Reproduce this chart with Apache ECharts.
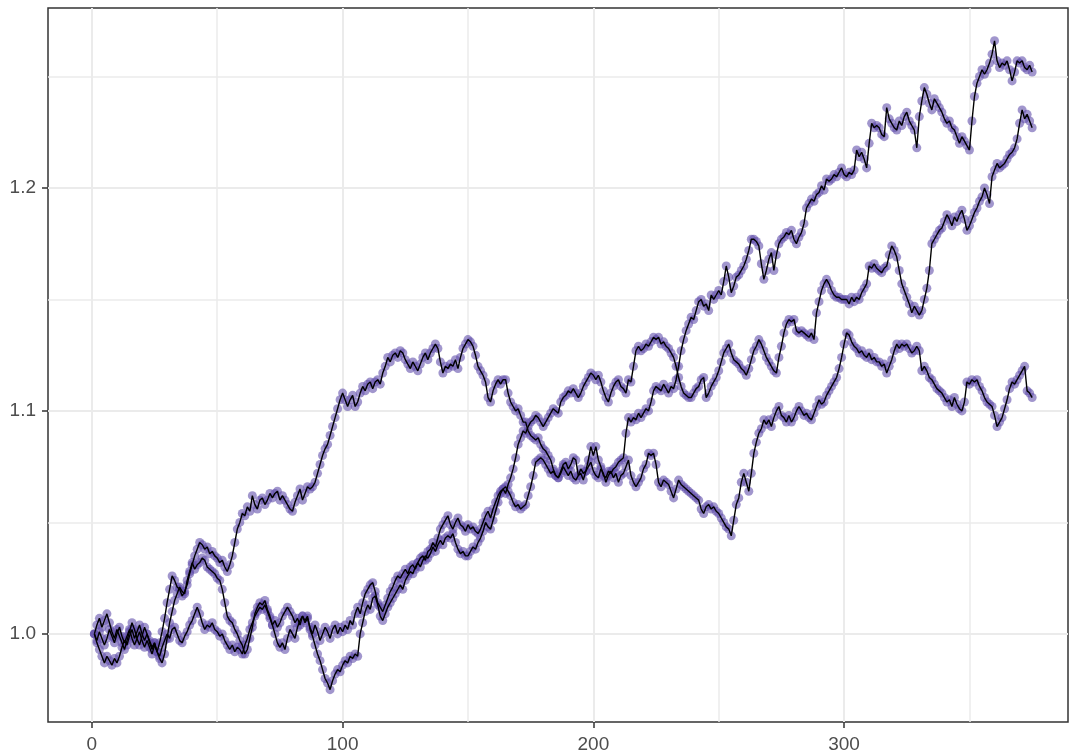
<!DOCTYPE html>
<html>
<head>
<meta charset="utf-8">
<script src="https://cdn.jsdelivr.net/npm/echarts@6/dist/echarts.min.js"></script>
<style>
  html, body { margin: 0; padding: 0; background: #ffffff; }
  #chart { width: 1070px; height: 756px; }
</style>
</head>
<body>
<div id="chart"></div>
<script>
// Three cumulative random walks, one value per step (steps 1..375)
const walkA = [
  1.000, 0.997, 1.001, 0.998, 0.995, 0.998, 1.002, 0.999, 0.996, 1.000, 1.003, 0.999, 0.996, 0.999, 1.002, 0.998, 0.995, 0.998, 1.001, 0.997, 0.994, 0.997, 0.994, 0.991, 0.995,
  0.992, 0.996, 1.001, 1.007, 1.014, 1.020, 1.026, 1.024, 1.021, 1.020, 1.017, 1.019, 1.022, 1.027, 1.031, 1.035, 1.038, 1.041, 1.040, 1.038, 1.039, 1.036, 1.037, 1.035, 1.034,
  1.032, 1.033, 1.030, 1.028, 1.031, 1.035, 1.041, 1.047, 1.050, 1.054, 1.053, 1.057, 1.055, 1.062, 1.058, 1.056, 1.060, 1.061, 1.058, 1.060, 1.063, 1.061, 1.063, 1.064, 1.060,
  1.062, 1.060, 1.058, 1.056, 1.055, 1.059, 1.062, 1.065, 1.060, 1.063, 1.066, 1.065, 1.066, 1.068, 1.072, 1.076, 1.080, 1.083, 1.085, 1.089, 1.093, 1.097, 1.101, 1.105, 1.108,
  1.105, 1.102, 1.105, 1.107, 1.102, 1.104, 1.108, 1.111, 1.109, 1.112, 1.113, 1.110, 1.113, 1.114, 1.112, 1.117, 1.120, 1.124, 1.122, 1.125, 1.126, 1.124, 1.127, 1.126, 1.123,
  1.121, 1.119, 1.122, 1.120, 1.118, 1.121, 1.124, 1.126, 1.123, 1.126, 1.128, 1.130, 1.128, 1.122, 1.117, 1.120, 1.119, 1.121, 1.120, 1.123, 1.119, 1.124, 1.128, 1.130, 1.132,
  1.131, 1.129, 1.125, 1.120, 1.118, 1.116, 1.113, 1.106, 1.104, 1.109, 1.112, 1.114, 1.112, 1.114, 1.114, 1.108, 1.104, 1.102, 1.100, 1.101, 1.098, 1.095, 1.095, 1.091, 1.089,
  1.088, 1.087, 1.088, 1.085, 1.083, 1.082, 1.080, 1.078, 1.074, 1.071, 1.070, 1.073, 1.076, 1.077, 1.074, 1.076, 1.079, 1.078, 1.071, 1.072, 1.069, 1.073, 1.075, 1.077, 1.073,
  1.071, 1.070, 1.074, 1.072, 1.068, 1.071, 1.073, 1.070, 1.072, 1.068, 1.071, 1.072, 1.075, 1.078, 1.071, 1.068, 1.066, 1.068, 1.070, 1.074, 1.076, 1.081, 1.080, 1.081, 1.076,
  1.068, 1.066, 1.069, 1.068, 1.067, 1.064, 1.061, 1.065, 1.069, 1.067, 1.066, 1.065, 1.064, 1.063, 1.062, 1.061, 1.060, 1.056, 1.054, 1.057, 1.058, 1.056, 1.057, 1.055, 1.054,
  1.052, 1.050, 1.048, 1.047, 1.044, 1.051, 1.058, 1.061, 1.068, 1.072, 1.068, 1.064, 1.072, 1.081, 1.086, 1.090, 1.092, 1.096, 1.094, 1.096, 1.093, 1.097, 1.100, 1.102, 1.098,
  1.097, 1.095, 1.098, 1.095, 1.097, 1.100, 1.102, 1.100, 1.098, 1.099, 1.097, 1.096, 1.099, 1.102, 1.105, 1.103, 1.104, 1.107, 1.109, 1.111, 1.113, 1.115, 1.119, 1.124, 1.130,
  1.135, 1.134, 1.131, 1.129, 1.128, 1.126, 1.127, 1.125, 1.124, 1.126, 1.123, 1.124, 1.122, 1.122, 1.120, 1.121, 1.117, 1.120, 1.123, 1.127, 1.130, 1.128, 1.130, 1.129, 1.130,
  1.128, 1.126, 1.127, 1.129, 1.127, 1.118, 1.120, 1.118, 1.115, 1.114, 1.112, 1.110, 1.109, 1.108, 1.106, 1.104, 1.105, 1.102, 1.106, 1.103, 1.101, 1.100, 1.104, 1.113, 1.112,
  1.114, 1.113, 1.114, 1.111, 1.109, 1.106, 1.104, 1.103, 1.102, 1.098, 1.093, 1.095, 1.097, 1.101, 1.105, 1.110, 1.113, 1.112, 1.114, 1.116, 1.118, 1.120, 1.109, 1.108, 1.106
];

const walkB = [
  1.000, 0.996, 0.993, 0.990, 0.987, 0.990, 0.988, 0.986, 0.989, 0.987, 0.990, 0.994, 0.997, 0.995, 0.999, 1.002, 0.998, 1.001, 1.004, 1.000, 0.997, 1.000, 0.996, 0.993, 0.996,
  0.992, 0.990, 0.994, 0.997, 1.000, 0.998, 1.002, 1.003, 1.000, 0.997, 0.996, 0.999, 1.001, 1.004, 1.006, 1.009, 1.012, 1.009, 1.005, 1.002, 1.004, 1.003, 1.005, 1.002, 1.001,
  0.999, 1.000, 0.997, 0.995, 0.993, 0.995, 0.992, 0.994, 0.993, 0.991, 0.995, 0.998, 1.002, 1.005, 1.008, 1.010, 1.012, 1.011, 1.013, 1.010, 1.007, 1.004, 1.006, 1.003, 1.005,
  1.008, 1.010, 1.012, 1.010, 1.008, 1.005, 1.007, 1.004, 1.008, 1.006, 1.008, 1.002, 0.999, 0.995, 0.991, 0.988, 0.984, 0.980, 0.978, 0.975, 0.979, 0.982, 0.984, 0.983, 0.986,
  0.988, 0.987, 0.990, 0.989, 0.991, 0.990, 1.000, 1.005, 1.010, 1.013, 1.011, 1.016, 1.017, 1.013, 1.008, 1.006, 1.009, 1.012, 1.014, 1.016, 1.018, 1.020, 1.022, 1.020, 1.024,
  1.026, 1.028, 1.027, 1.030, 1.032, 1.030, 1.033, 1.035, 1.034, 1.036, 1.039, 1.037, 1.040, 1.042, 1.040, 1.043, 1.044, 1.043, 1.045, 1.041, 1.038, 1.036, 1.037, 1.035, 1.035,
  1.037, 1.039, 1.038, 1.041, 1.043, 1.046, 1.050, 1.048, 1.047, 1.051, 1.055, 1.059, 1.063, 1.065, 1.066, 1.064, 1.062, 1.059, 1.057, 1.058, 1.056, 1.057, 1.058, 1.062, 1.066,
  1.071, 1.077, 1.078, 1.079, 1.078, 1.076, 1.074, 1.072, 1.073, 1.071, 1.070, 1.072, 1.075, 1.073, 1.071, 1.073, 1.070, 1.069, 1.071, 1.074, 1.072, 1.073, 1.078, 1.084, 1.080,
  1.084, 1.078, 1.075, 1.071, 1.070, 1.073, 1.072, 1.074, 1.075, 1.077, 1.078, 1.079, 1.090, 1.097, 1.095, 1.097, 1.096, 1.099, 1.097, 1.099, 1.101, 1.100, 1.104, 1.109, 1.111,
  1.110, 1.109, 1.112, 1.110, 1.108, 1.111, 1.110, 1.114, 1.120, 1.127, 1.132, 1.136, 1.139, 1.142, 1.141, 1.145, 1.149, 1.150, 1.147, 1.148, 1.145, 1.152, 1.150, 1.152, 1.154,
  1.152, 1.158, 1.165, 1.160, 1.153, 1.156, 1.160, 1.161, 1.163, 1.165, 1.168, 1.172, 1.177, 1.177, 1.176, 1.174, 1.166, 1.159, 1.163, 1.168, 1.171, 1.163, 1.170, 1.175, 1.177,
  1.178, 1.180, 1.179, 1.181, 1.177, 1.175, 1.178, 1.180, 1.184, 1.191, 1.193, 1.195, 1.194, 1.197, 1.198, 1.201, 1.199, 1.204, 1.203, 1.204, 1.206, 1.205, 1.207, 1.209, 1.206,
  1.205, 1.207, 1.206, 1.208, 1.217, 1.214, 1.216, 1.213, 1.209, 1.220, 1.229, 1.227, 1.228, 1.227, 1.224, 1.223, 1.236, 1.231, 1.229, 1.227, 1.226, 1.230, 1.228, 1.232, 1.234,
  1.230, 1.228, 1.226, 1.218, 1.232, 1.239, 1.245, 1.242, 1.238, 1.235, 1.240, 1.238, 1.236, 1.234, 1.231, 1.229, 1.230, 1.227, 1.226, 1.223, 1.220, 1.223, 1.221, 1.219, 1.217,
  1.230, 1.241, 1.247, 1.250, 1.253, 1.251, 1.253, 1.256, 1.260, 1.266, 1.257, 1.254, 1.256, 1.255, 1.257, 1.253, 1.248, 1.252, 1.257, 1.256, 1.257, 1.254, 1.253, 1.255, 1.252
];

const walkC = [
  1.000, 1.004, 1.007, 1.003, 1.006, 1.009, 1.005, 1.001, 0.998, 1.002, 0.999, 0.996, 0.993, 0.997, 1.001, 1.005, 1.002, 0.998, 0.995, 0.999, 1.003, 1.000, 0.997, 0.994, 0.996,
  0.992, 0.989, 0.987, 0.991, 0.998, 1.005, 1.010, 1.015, 1.018, 1.021, 1.019, 1.018, 1.024, 1.028, 1.032, 1.029, 1.031, 1.032, 1.034, 1.033, 1.030, 1.029, 1.028, 1.027, 1.025,
  1.024, 1.020, 1.014, 1.008, 1.006, 1.005, 1.002, 1.000, 0.997, 0.995, 0.991, 0.993, 0.998, 1.003, 1.009, 1.012, 1.014, 1.013, 1.015, 1.011, 1.008, 1.004, 1.000, 0.996, 0.994,
  0.996, 0.993, 0.998, 1.002, 1.000, 0.998, 1.003, 1.006, 1.008, 1.005, 1.007, 1.003, 1.000, 1.004, 1.001, 0.997, 1.000, 1.003, 1.001, 0.998, 1.002, 1.004, 1.000, 1.003, 1.001,
  1.004, 1.002, 1.006, 1.004, 1.009, 1.012, 1.009, 1.014, 1.018, 1.020, 1.022, 1.023, 1.019, 1.014, 1.012, 1.010, 1.013, 1.016, 1.019, 1.021, 1.024, 1.026, 1.025, 1.027, 1.029,
  1.027, 1.030, 1.031, 1.029, 1.032, 1.034, 1.035, 1.033, 1.037, 1.038, 1.041, 1.039, 1.043, 1.047, 1.049, 1.051, 1.053, 1.049, 1.047, 1.050, 1.052, 1.049, 1.048, 1.046, 1.049,
  1.047, 1.048, 1.046, 1.045, 1.047, 1.050, 1.053, 1.055, 1.052, 1.056, 1.059, 1.062, 1.064, 1.065, 1.063, 1.067, 1.070, 1.074, 1.079, 1.085, 1.088, 1.091, 1.090, 1.093, 1.095,
  1.096, 1.098, 1.097, 1.095, 1.093, 1.095, 1.097, 1.099, 1.101, 1.100, 1.099, 1.104, 1.106, 1.107, 1.109, 1.108, 1.110, 1.108, 1.106, 1.108, 1.111, 1.113, 1.115, 1.117, 1.116,
  1.114, 1.116, 1.113, 1.109, 1.106, 1.104, 1.108, 1.111, 1.113, 1.114, 1.111, 1.110, 1.108, 1.114, 1.113, 1.120, 1.127, 1.129, 1.127, 1.128, 1.130, 1.129, 1.131, 1.133, 1.132,
  1.133, 1.130, 1.131, 1.129, 1.128, 1.126, 1.124, 1.120, 1.115, 1.111, 1.108, 1.107, 1.106, 1.106, 1.108, 1.110, 1.111, 1.114, 1.115, 1.106, 1.108, 1.111, 1.113, 1.115, 1.118,
  1.122, 1.126, 1.128, 1.130, 1.126, 1.123, 1.122, 1.121, 1.119, 1.118, 1.116, 1.119, 1.123, 1.127, 1.129, 1.132, 1.130, 1.127, 1.124, 1.122, 1.120, 1.118, 1.117, 1.124, 1.129,
  1.135, 1.139, 1.141, 1.140, 1.141, 1.136, 1.135, 1.136, 1.135, 1.134, 1.133, 1.135, 1.132, 1.144, 1.149, 1.154, 1.157, 1.159, 1.157, 1.154, 1.152, 1.151, 1.151, 1.150, 1.150,
  1.150, 1.148, 1.151, 1.149, 1.151, 1.150, 1.153, 1.155, 1.157, 1.165, 1.164, 1.166, 1.164, 1.163, 1.162, 1.164, 1.165, 1.170, 1.174, 1.172, 1.169, 1.163, 1.157, 1.154, 1.151,
  1.148, 1.144, 1.147, 1.145, 1.143, 1.145, 1.150, 1.155, 1.163, 1.175, 1.177, 1.179, 1.181, 1.182, 1.185, 1.188, 1.186, 1.183, 1.187, 1.185, 1.188, 1.190, 1.186, 1.181, 1.183,
  1.186, 1.189, 1.191, 1.194, 1.196, 1.200, 1.197, 1.193, 1.205, 1.208, 1.211, 1.209, 1.210, 1.211, 1.213, 1.215, 1.216, 1.218, 1.222, 1.229, 1.235, 1.231, 1.233, 1.230, 1.227
];

const walks = [walkA, walkB, walkC];

// Axis ticks
const xMajorTicks = [0, 100, 200, 300];
const xMinorTicks = [50, 150, 250, 350];
const yMajorTicks = [1.0, 1.1, 1.2];
const yMinorTicks = [1.05, 1.15, 1.25];

const xLimits = [-17.5, 389.3];
const yLimits = [0.9605, 1.2807];

const POINT_COLOR = 'rgba(96, 78, 170, 0.74)';
const LINE_COLOR = '#000000';
const GRID_COLOR = '#ebebeb';
const BORDER_COLOR = '#333333';
const TEXT_COLOR = '#4d4d4d';
const FONT = '"Liberation Sans", Arial, sans-serif';
const TICK_LEN = 6;

const chart = echarts.init(document.getElementById('chart'), null, { renderer: 'canvas' });

function toPairs(values) {
  return values.map((v, i) => [i + 1, v]);
}

// Minor grid lines, placed through the axis scales
const minorGrid = {
  silent: true,
  symbol: ['none', 'none'],
  label: { show: false },
  lineStyle: { color: GRID_COLOR, width: 1.5, type: 'solid' },
  data: xMinorTicks.map(v => ({ xAxis: v })).concat(yMinorTicks.map(v => ({ yAxis: v })))
};

const series = [];
walks.forEach((w, k) => {
  series.push({
    type: 'scatter',
    name: 'points' + k,
    data: toPairs(w),
    xAxisIndex: 0, yAxisIndex: 0,
    symbol: 'circle',
    symbolSize: 9,
    itemStyle: { color: POINT_COLOR },
    z: 2,
    silent: true,
    markLine: k === 0 ? Object.assign({ z: 1 }, minorGrid) : undefined
  });
});
walks.forEach((w, k) => {
  series.push({
    type: 'line',
    name: 'path' + k,
    data: toPairs(w),
    xAxisIndex: 0, yAxisIndex: 0,
    showSymbol: false,
    lineStyle: { color: LINE_COLOR, width: 1.4 },
    z: 3,
    silent: true
  });
});

// Edge-anchored helper axes: their zero sits on the panel's left / bottom edge,
// so the main axes (set "on zero" of them) draw their ticks along the panel border.
const hiddenAxis = {
  type: 'value', show: true,
  axisLine: { show: false, onZero: false },
  axisTick: { show: false },
  axisLabel: { show: false },
  splitLine: { show: false }
};

const option = {
  animation: false,
  backgroundColor: '#ffffff',
  grid: {
    left: 48, right: 2, top: 8, bottom: 34,
    show: true, borderColor: BORDER_COLOR, borderWidth: 1.5, backgroundColor: 'transparent'
  },
  xAxis: [
    {
      type: 'value', min: xLimits[0], max: xLimits[1], position: 'bottom',
      axisLine: { show: false, onZero: true, onZeroAxisIndex: 1, lineStyle: { color: BORDER_COLOR, width: 1.5 } },
      axisTick: { show: true, customValues: xMajorTicks, length: TICK_LEN, lineStyle: { color: BORDER_COLOR, width: 1.5 } },
      axisLabel: { customValues: xMajorTicks, color: TEXT_COLOR, fontFamily: FONT, fontSize: 19, margin: 13 },
      splitLine: { show: true, lineStyle: { color: GRID_COLOR, width: 2 } }
    },
    Object.assign({}, hiddenAxis, { min: 0, max: xLimits[1] - xLimits[0], position: 'top' })
  ],
  yAxis: [
    {
      type: 'value', min: yLimits[0], max: yLimits[1], position: 'left',
      axisLine: { show: false, onZero: true, onZeroAxisIndex: 1, lineStyle: { color: BORDER_COLOR, width: 1.5 } },
      axisTick: { show: true, customValues: yMajorTicks, length: TICK_LEN, lineStyle: { color: BORDER_COLOR, width: 1.5 } },
      axisLabel: { customValues: yMajorTicks, color: TEXT_COLOR, fontFamily: FONT, fontSize: 19, margin: 12,
                   formatter: v => v.toFixed(1) },
      splitLine: { show: true, lineStyle: { color: GRID_COLOR, width: 2 } }
    },
    Object.assign({}, hiddenAxis, { min: 0, max: yLimits[1] - yLimits[0], position: 'right' })
  ],
  series: series
};

chart.setOption(option);
</script>
</body>
</html>
